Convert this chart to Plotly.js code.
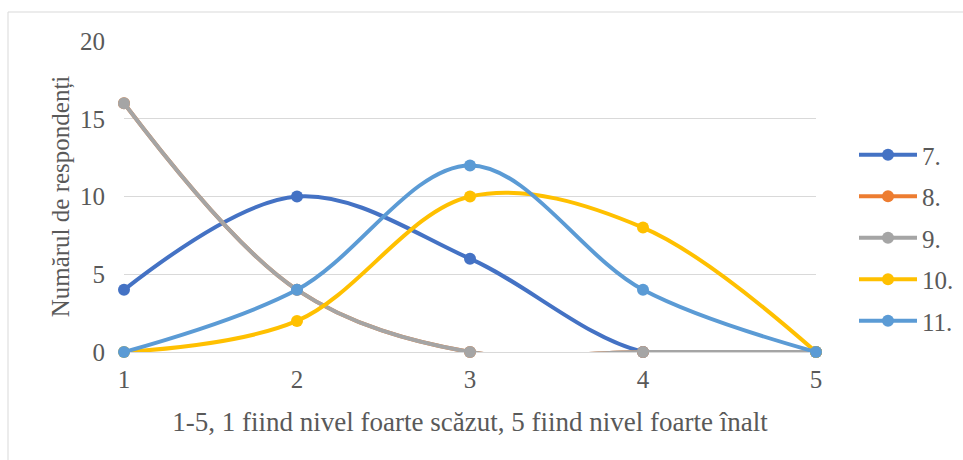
<!DOCTYPE html>
<html>
<head>
<meta charset="utf-8">
<script src="https://cdn.plot.ly/plotly-3.0.1.min.js"></script>
<style>
  html, body { margin: 0; padding: 0; background: #fff; }
  #chart { width: 963px; height: 460px; }
</style>
</head>
<body>
<div id="chart"></div>
<script>
// Scale points 1..5
const levels = [1, 2, 3, 4, 5];

// Respondent counts per question
const q7  = [4, 10, 6, 0, 0];
const q8  = [16, 4, 0, 0, 0];
const q9  = [16, 4, 0, 0, 0];
const q10 = [0, 2, 10, 8, 0];
const q11 = [0, 4, 12, 4, 0];

const seriesNames  = ['7.', '8.', '9.', '10.', '11.'];
const seriesValues = [q7, q8, q9, q10, q11];
const seriesColors = ['#4472C4', '#ED7D31', '#A5A5A5', '#FFC000', '#5B9BD5'];

const yTicks = [0, 5, 10, 15, 20];

const textColor = '#595959';
const gridColor = '#D9D9D9';
const fontFamily = '"Liberation Serif", "Times New Roman", serif';

// Plot area geometry (pixels)
const W = 963, H = 460;
const plotLeft = 124, plotRight = 816, plotTop = 41, plotBottom = 352;
const px2paperX = px => (px - plotLeft) / (plotRight - plotLeft);
const px2paperY = py => (plotBottom - py) / (plotBottom - plotTop);

const traces = seriesNames.map((name, i) => ({
  x: levels,
  y: seriesValues[i],
  name: name,
  type: 'scatter',
  mode: 'lines+markers',
  legendgroup: 'g' + i,
  line: { color: seriesColors[i], width: 4, shape: 'spline', smoothing: 1 },
  marker: { color: seriesColors[i], size: 12 },
  cliponaxis: false
}));

const layout = {
  width: W,
  height: H,
  margin: { l: plotLeft, r: W - plotRight, t: plotTop, b: H - plotBottom, autoexpand: false },
  paper_bgcolor: '#fff',
  plot_bgcolor: '#fff',
  font: { family: fontFamily, size: 25, color: textColor },
  showlegend: true,
  legend: {
    x: px2paperX(854), y: px2paperY(132), xanchor: 'left', yanchor: 'top',
    traceorder: 'grouped', tracegroupgap: 6,
    itemwidth: 58,
    font: { family: fontFamily, size: 25, color: textColor },
    bgcolor: 'rgba(0,0,0,0)'
  },
  xaxis: {
    range: [1, 5],
    tickvals: levels,
    ticktext: levels.map(String),
    showgrid: false,
    zeroline: false,
    showline: false,
    ticks: '',
    ticklabelstandoff: 10,
    tickfont: { family: fontFamily, size: 25, color: textColor },
    title: { text: '1-5, 1 fiind nivel foarte scăzut, 5 fiind nivel foarte înalt',
             font: { family: fontFamily, size: 27, color: textColor }, standoff: 20 }
  },
  yaxis: {
    range: [0, 20],
    tickvals: yTicks,
    ticktext: yTicks.map(String),
    showgrid: true,
    gridcolor: gridColor,
    gridwidth: 1,
    zeroline: true,
    zerolinecolor: gridColor,
    zerolinewidth: 1,
    showline: false,
    ticks: '',
    ticklabelstandoff: 18,
    tickfont: { family: fontFamily, size: 25, color: textColor },
    title: { text: 'Numărul de respondenți',
             font: { family: fontFamily, size: 25, color: textColor }, standoff: 3 }
  },
  shapes: [
    // chart frame
    { type: 'rect', xref: 'paper', yref: 'paper',
      x0: px2paperX(8), x1: px2paperX(990),
      y0: px2paperY(490), y1: px2paperY(12),
      line: { color: gridColor, width: 1 }, fillcolor: 'rgba(0,0,0,0)', layer: 'below' }
  ]
};

Plotly.newPlot('chart', traces, layout, { displayModeBar: false, staticPlot: true });
</script>
</body>
</html>
